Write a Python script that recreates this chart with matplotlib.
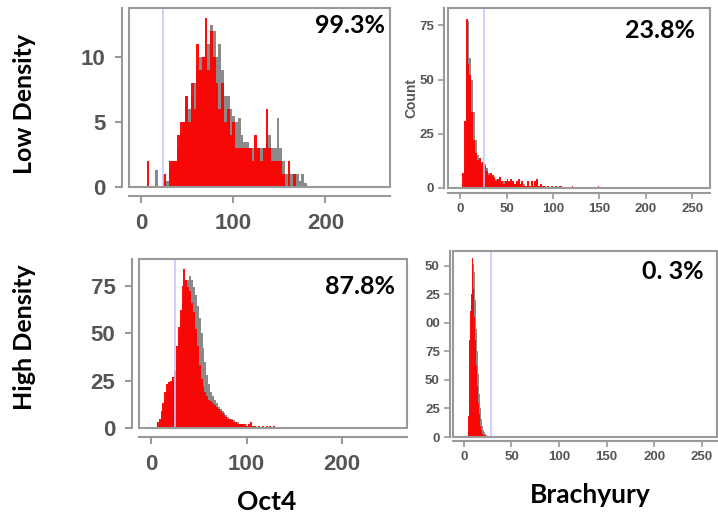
import numpy as np
import matplotlib.pyplot as plt
from matplotlib.patches import Rectangle

# ---- Oct4, low density (bin width 3, first edge 6)
tl_edges = list(range(6, 180, 3))
tl_red = [2, 0, 0, 0, 0, 0, 1, 0, 2, 2, 2, 4, 5, 5, 7, 5, 8, 6, 11, 9,
          10, 13, 9, 12, 10, 8, 6, 8, 5, 6, 4, 5, 3, 3, 3, 3, 3, 3, 2, 4,
          3, 2, 3, 6, 3, 2, 2, 2, 2, 1, 0, 2, 0, 1, 0, 0, 0, 0]
tl_gray = [0, 0, 0, 1.3, 0, 0, 0.5, 0.5, 1.5, 2, 2, 3, 4, 5, 6, 6, 7, 8, 9, 10,
           10, 11, 11, 12.5, 12, 10, 11, 9, 7, 7, 6, 5.5, 5, 5.3, 4, 3.5, 3.5, 3, 3, 3,
           3, 3, 3, 3.5, 4, 3, 3, 5.3, 3, 2, 1, 1, 1, 1, 1, 0.5, 1, 0.3]

# ---- Brachyury, low density (bin width 2, first edge 2)
tr_edges = list(range(2, 150, 2))
tr_red = [7, 31, 78, 57, 52, 35, 22, 16, 13, 14, 11, 12, 10, 8, 6, 7, 6, 5, 3, 4,
          5, 3, 2, 3, 4, 3, 4, 3, 2, 3, 4, 2, 3, 1, 1, 3, 1, 3, 1, 3,
          4, 1, 2, 1, 1, 0, 1, 0, 1, 0, 1, 0, 1, 1, 0, 0, 0, 0, 0, 1,
          0, 0, 0, 0, 0, 0, 0, 0, 0, 0, 0, 0, 0, 1]
tr_gray = [0, 10, 60, 77, 60, 50, 35, 22, 15, 12, 12, 12, 11, 9, 7, 6, 5, 5, 4, 4,
           4, 3, 3, 3, 3, 3, 3, 3, 2, 2, 3, 2, 2, 2, 1, 2, 1, 2, 1, 2,
           2, 1, 1, 1, 1, 0, 0, 0, 0, 0, 0, 0, 0, 0, 0, 0, 0, 0, 0, 0,
           0, 0, 0, 0, 0, 0, 0, 0, 0, 0, 0, 0, 0, 0]

# ---- Oct4, high density (bin width 2, first edge 6)
bl_edges = list(range(6, 130, 2))
bl_red = [3, 5, 9, 13, 19, 23, 24, 25, 27, 30, 43, 53, 62, 75, 84, 78, 74, 72, 66, 61,
          52, 43, 33, 26, 22, 19, 17, 15, 14, 13, 12, 11, 10, 9, 8, 7, 6, 5, 5, 4,
          3, 3, 2, 2, 2, 2, 1, 1, 2, 3, 1, 1, 0, 1, 0, 1, 0, 1, 0, 1, 0, 1]
bl_gray = [1, 3, 6, 10, 15, 19, 22, 24, 25, 27, 35, 45, 55, 65, 72, 76, 78, 80, 78, 74,
           70, 64, 58, 50, 42, 35, 28, 23, 19, 17, 15, 13, 11, 10, 9, 8, 7, 6, 5, 5,
           4, 3, 3, 2, 2, 2, 2, 1, 1, 1, 1, 1, 0.5, 0.5, 0, 0, 0, 0, 0, 0, 0, 0]

# ---- Brachyury, high density (bin width 1, first edge 4)
br_edges = list(range(4, 42))
br_red = [18, 85, 110, 125, 155, 157, 130, 105, 85, 62, 45, 30, 20, 10, 6, 3, 2, 2, 1, 1,
          0, 0, 0, 0, 0, 0, 0, 0, 0, 0, 0, 0, 0, 0, 0, 0, 1, 0]
br_gray = [5, 30, 80, 115, 135, 148, 152, 145, 120, 95, 75, 55, 38, 25, 16, 10, 6, 4, 3, 2,
           1, 1, 0, 0, 0, 0, 0, 0, 0, 0, 0, 0, 0, 0, 0, 0, 0, 0]

percents = ['99.3%', '23.8%', '87.8%', '0. 3%']
gates = [24, 26, 25, 28]

GRAY = '#999999'
TXT = '#555555'

fig = plt.figure(figsize=(7.18, 5.2), dpi=100)


def panel(rect, edges, red, gray, width, gate, xlim, ylim, xticks, yticks,
          ylabels, pct, pct_xy, big, off):
    ax = fig.add_axes(rect)
    ax.bar(edges, gray, width=width, align='edge', color='#8a8a8a', lw=0)
    ax.bar(edges, red, width=width, align='edge', color='#ff0000', lw=0, alpha=0.95)
    ax.axvline(gate, color='#c8c8ff', lw=1.2)
    ax.set_xlim(*xlim)
    ax.set_ylim(*ylim)
    for s in ['top', 'right']:
        ax.spines[s].set_visible(False)
    ax.spines['left'].set_position(('outward', off[0]))
    ax.spines['bottom'].set_position(('outward', off[1]))
    for s in ['left', 'bottom']:
        ax.spines[s].set_color(GRAY)
        ax.spines[s].set_linewidth(1.5)
    ax.add_patch(Rectangle((0, 0), 1, 1, transform=ax.transAxes, fill=False,
                           ec=GRAY, lw=1.5, clip_on=False, zorder=5))
    ax.set_xticks(xticks)
    ax.set_yticks(yticks)
    ax.set_yticklabels(ylabels)
    if big:
        ax.tick_params(colors=GRAY, labelcolor=TXT, length=5, width=1.5,
                       labelsize=16, pad=7)
        fam = ['Liberation Sans', 'DejaVu Sans']
    else:
        ax.tick_params(colors=GRAY, labelcolor=TXT, length=4, width=1.2,
                       labelsize=9.5, pad=3)
        fam = ['Liberation Sans Narrow', 'Liberation Sans', 'DejaVu Sans']
    for lab in ax.get_xticklabels() + ax.get_yticklabels():
        lab.set_family(fam)
        lab.set_fontweight('bold')
    ax.text(pct_xy[0], pct_xy[1], pct, transform=ax.transAxes, ha='right', va='center',
            fontsize=18, fontweight='bold', family=['Lato', 'DejaVu Sans'])
    return ax


panel([0.1797, 0.6404, 0.3635, 0.3442], tl_edges, tl_red, tl_gray, 3, gates[0],
      (-13, 270), (0, 13.8), [0, 100, 200], [0, 5, 10], ['0', '5', '10'],
      percents[0], (0.98, 0.90), True, (5, 6.5))
ax_tr = panel([0.6240, 0.6385, 0.3649, 0.3462], tr_edges, tr_red, tr_gray, 2, gates[1],
              (-13, 269), (0, 83), [0, 50, 100, 150, 200, 250], [0, 25, 50, 75],
              ['0', '25', '50', '75'], percents[1], (0.943, 0.872), False, (3, 3.5))
ax_tr.set_ylabel('Count', fontsize=10, fontweight='bold', color=TXT,
                 family=['Liberation Sans', 'DejaVu Sans'], labelpad=1)
panel([0.1936, 0.1769, 0.3733, 0.325], bl_edges, bl_red, bl_gray, 2, gates[2],
      (-12.5, 268), (0, 89), [0, 100, 200], [0, 25, 50, 75], ['0', '25', '50', '75'],
      percents[2], (0.955, 0.84), True, (5, 6.5))
panel([0.6309, 0.1596, 0.3677, 0.3577], br_edges, br_red, br_gray, 1, gates[3],
      (-11.5, 266), (0, 163), [0, 50, 100, 150, 200, 250],
      [0, 25, 50, 75, 100, 125, 150], ['0', '25', '50', '75', '00', '25', '50'],
      percents[3], (0.95, 0.892), False, (2.5, 3))

lato = ['Lato', 'DejaVu Sans']
fig.text(25 / 718, 1 - 104 / 520, 'Low Density', rotation=90, ha='center', va='center',
         fontsize=18, fontweight='bold', family=lato)
fig.text(25 / 718, 1 - 337 / 520, 'High Density', rotation=90, ha='center', va='center',
         fontsize=18, fontweight='bold', family=lato)
fig.text(267 / 718, 1 - 502 / 520, 'Oct4', ha='center', va='center',
         fontsize=19, fontweight='bold', family=lato)
fig.text(590 / 718, 1 - 495 / 520, 'Brachyury', ha='center', va='center',
         fontsize=19, fontweight='bold', family=lato)

fig.savefig('out.png', dpi=100)
